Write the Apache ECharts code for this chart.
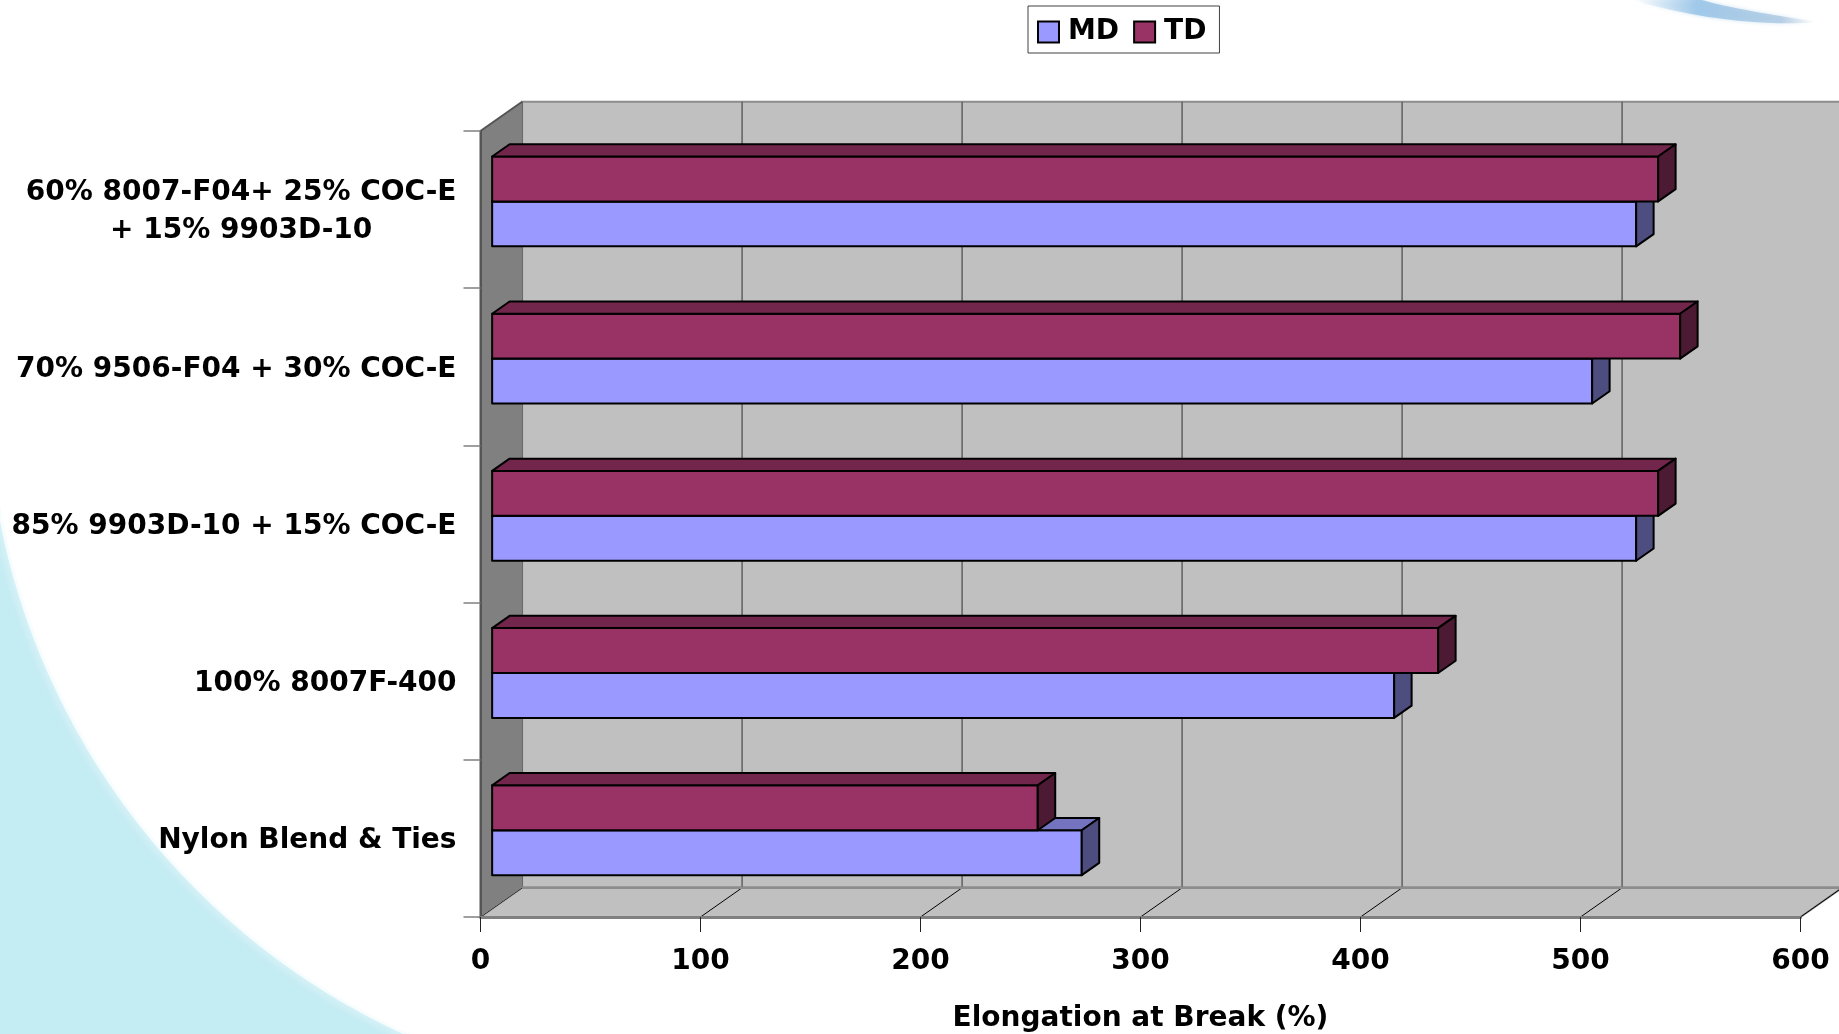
<!DOCTYPE html>
<html>
<head>
<meta charset="utf-8">
<script src="https://cdn.jsdelivr.net/npm/echarts@6/dist/echarts.min.js"></script>
<style>
  html, body { margin: 0; padding: 0; background: #ffffff; }
  #chart { width: 1839px; height: 1034px; }
</style>
</head>
<body>
<div id="chart"></div>
<script>
// ---- data ----
const categories = [
  '60% 8007-F04+ 25% COC-E\n+ 15% 9903D-10',
  '70% 9506-F04 + 30% COC-E',
  '85% 9903D-10 + 15% COC-E',
  '100% 8007F-400',
  'Nylon Blend & Ties'
];
const mdValues = [520, 500, 520, 410, 268];
const tdValues = [530, 540, 530, 430, 248];
const seriesNames = ['MD', 'TD'];
const xTicks = [0, 100, 200, 300, 400, 500, 600];
const axisTitle = 'Elongation at Break (%)';

// ---- look ----
const FONT = '"DejaVu Sans", "Liberation Sans", Arial, sans-serif';
const DEPTH = [41.6, -29.2];       // screen offset from front plane to back wall
const F0 = 0.28, F1 = 0.70;        // depth slice occupied by the bars
const COLORS = {
  MD: { front: '#9999FF', top: '#7373BF', side: '#4D4D80' },
  TD: { front: '#993366', top: '#73264C', side: '#4D1A33' }
};

const chart = echarts.init(document.getElementById('chart'), null, { renderer: 'canvas' });

// slide decoration: pale cyan quarter in the lower left, blue swoosh top right
function renderBackdrop() {
  return {
    type: 'group',
    children: [
      { type: 'path', shape: { pathData: 'M0 505 A714 714 0 0 0 410 1034 L0 1034 Z' },
        style: { fill: '#C4ECF3' } },
      { type: 'path', shape: { pathData: 'M0 505 A714 714 0 0 0 410 1034' },
        style: { fill: null, stroke: 'rgba(255,255,255,0.8)', lineWidth: 6, shadowBlur: 12, shadowColor: '#ffffff' } },
      { type: 'path', shape: { pathData: 'M1632 0 C1690 17 1760 27 1818 22 C1772 15 1725 7 1702 0 Z' },
        style: {
          fill: {
            type: 'linear', x: 0, y: 0, x2: 1, y2: 0,
            colorStops: [
              { offset: 0, color: 'rgba(190,220,240,0)' },
              { offset: 0.35, color: 'rgba(150,195,232,0.85)' },
              { offset: 0.8, color: 'rgba(165,195,222,0.7)' },
              { offset: 1, color: 'rgba(200,210,220,0)' }
            ]
          },
          shadowBlur: 4, shadowColor: 'rgba(160,200,230,0.6)'
        } }
    ]
  };
}

// back wall, floor, left wall and their grid lines
function renderWalls(params, api) {
  const cs = params.coordSys;
  const dx = DEPTH[0], dy = DEPTH[1];
  const L = cs.x, R = cs.x + cs.width, T = cs.y, B = cs.y + cs.height;
  const children = [];
  children.push({
    type: 'polygon',
    shape: { points: [[L + dx, T + dy], [R + dx, T + dy], [R + dx, B + dy], [L + dx, B + dy]] },
    style: { fill: '#C0C0C0', stroke: '#8C8C8C', lineWidth: 2 }
  });
  children.push({
    type: 'polygon',
    shape: { points: [[L, B], [R, B], [R + dx, B + dy], [L + dx, B + dy]] },
    style: { fill: '#C0C0C0', stroke: '#8C8C8C', lineWidth: 2 }
  });
  xTicks.forEach(function (v) {
    const x = api.coord([v, 0])[0];
    children.push({
      type: 'line',
      shape: { x1: x + dx, y1: T + dy, x2: x + dx, y2: B + dy },
      style: { stroke: '#606060', lineWidth: 1.5 }
    });
    children.push({
      type: 'line',
      shape: { x1: x, y1: B, x2: x + dx, y2: B + dy },
      style: { stroke: '#000000', lineWidth: 1 }
    });
  });
  children.push({
    type: 'line',
    shape: { x1: L + dx, y1: B + dy, x2: R + dx, y2: B + dy },
    style: { stroke: '#8C8C8C', lineWidth: 2.5 }
  });
  children.push({
    type: 'polygon',
    shape: { points: [[L, T], [L + dx, T + dy], [L + dx, B + dy], [L, B]] },
    style: { fill: '#808080' }
  });
  children.push({
    type: 'polyline',
    shape: { points: [[L, B], [L, T], [L + dx, T + dy]] },
    style: { stroke: '#555555', lineWidth: 2, fill: null }
  });
  return { type: 'group', children: children };
}

// one 3D bar: slot 0 sits below the category centre, slot 1 above it
function makeBarRenderer(name, slot) {
  const c = COLORS[name];
  return function (params, api) {
    const v = api.value(0), idx = api.value(1);
    const base = api.coord([0, idx]);
    const end = api.coord([v, idx]);
    const band = api.size([0, 1])[1];
    const bh = band / 3.5;
    const ox = DEPTH[0] * F0, oy = DEPTH[1] * F0;
    const bx = DEPTH[0] * (F1 - F0), by = DEPTH[1] * (F1 - F0);
    const x0 = base[0] + ox, x1 = end[0] + ox;
    const yTop = base[1] + oy - (slot === 1 ? bh : 0);
    const yBot = yTop + bh;
    const edge = { stroke: '#000000', lineWidth: 2, lineJoin: 'round' };
    return {
      type: 'group',
      children: [
        { type: 'polygon', shape: { points: [[x0, yTop], [x1, yTop], [x1, yBot], [x0, yBot]] },
          style: Object.assign({ fill: c.front }, edge) },
        { type: 'polygon', shape: { points: [[x0, yTop], [x1, yTop], [x1 + bx, yTop + by], [x0 + bx, yTop + by]] },
          style: Object.assign({ fill: c.top }, edge) },
        { type: 'polygon', shape: { points: [[x1, yTop], [x1 + bx, yTop + by], [x1 + bx, yBot + by], [x1, yBot]] },
          style: Object.assign({ fill: c.side }, edge) }
      ]
    };
  };
}

const labelStyle = { fontFamily: FONT, fontWeight: 'bold', fontSize: 28, color: '#000000' };

const option = {
  animation: false,
  backgroundColor: '#ffffff',
  legend: {
    left: 1028, top: 6,
    padding: [12, 13, 7, 9],
    itemGap: 14, itemWidth: 21, itemHeight: 21,
    borderColor: '#404040', borderWidth: 1, backgroundColor: '#ffffff',
    textStyle: Object.assign({ padding: [0, 0, 0, 4] }, labelStyle),
    data: [
      { name: seriesNames[0], icon: 'rect', itemStyle: { color: COLORS.MD.front, borderColor: '#000', borderWidth: 2 } },
      { name: seriesNames[1], icon: 'rect', itemStyle: { color: COLORS.TD.front, borderColor: '#000', borderWidth: 2 } }
    ]
  },
  grid: { left: 480.5, top: 131, width: 1320, height: 786, containLabel: false, outerBoundsMode: 'none' },
  xAxis: {
    type: 'value',
    min: xTicks[0], max: xTicks[xTicks.length - 1], interval: xTicks[1] - xTicks[0],
    z: 5,
    axisLine: { show: true, lineStyle: { color: '#808080', width: 3 } },
    axisTick: { show: true, length: 15, lineStyle: { color: '#222222', width: 1 } },
    splitLine: { show: false },
    axisLabel: Object.assign({ margin: 31 }, labelStyle),
    name: axisTitle,
    nameLocation: 'middle',
    nameGap: 88,
    nameTextStyle: labelStyle
  },
  yAxis: {
    type: 'category',
    inverse: true,
    data: categories,
    z: 5,
    axisLine: { show: true, lineStyle: { color: '#555555', width: 2 } },
    axisTick: { show: true, length: 17, lineStyle: { color: '#808080', width: 1.5 } },
    splitLine: { show: false },
    axisLabel: Object.assign({
      margin: 24,
      align: 'right',
      lineHeight: 38,
      padding: [5, 0, 0, 0],
      formatter: function (v) {
        if (v.indexOf('\n') < 0) return v;
        return v.split('\n').map(function (s) { return '{c|' + s + '}'; }).join('\n');
      },
      rich: { c: Object.assign({ align: 'center', lineHeight: 38 }, labelStyle) }
    }, labelStyle)
  },
  series: [
    {
      name: 'backdrop', type: 'custom', silent: true, z: 0,
      renderItem: renderBackdrop,
      data: [[0, 0]],
      encode: { x: 0, y: 1 }
    },
    {
      name: 'walls', type: 'custom', silent: true,
      renderItem: renderWalls,
      data: [[0, 0]],
      encode: { x: 0, y: 1 }
    },
    {
      name: seriesNames[0], type: 'custom',
      renderItem: makeBarRenderer('MD', 0),
      itemStyle: { color: COLORS.MD.front },
      data: mdValues.map(function (v, i) { return [v, i]; }),
      encode: { x: 0, y: 1 }
    },
    {
      name: seriesNames[1], type: 'custom',
      renderItem: makeBarRenderer('TD', 1),
      itemStyle: { color: COLORS.TD.front },
      data: tdValues.map(function (v, i) { return [v, i]; }),
      encode: { x: 0, y: 1 }
    }
  ]
};

chart.setOption(option);
</script>
</body>
</html>
